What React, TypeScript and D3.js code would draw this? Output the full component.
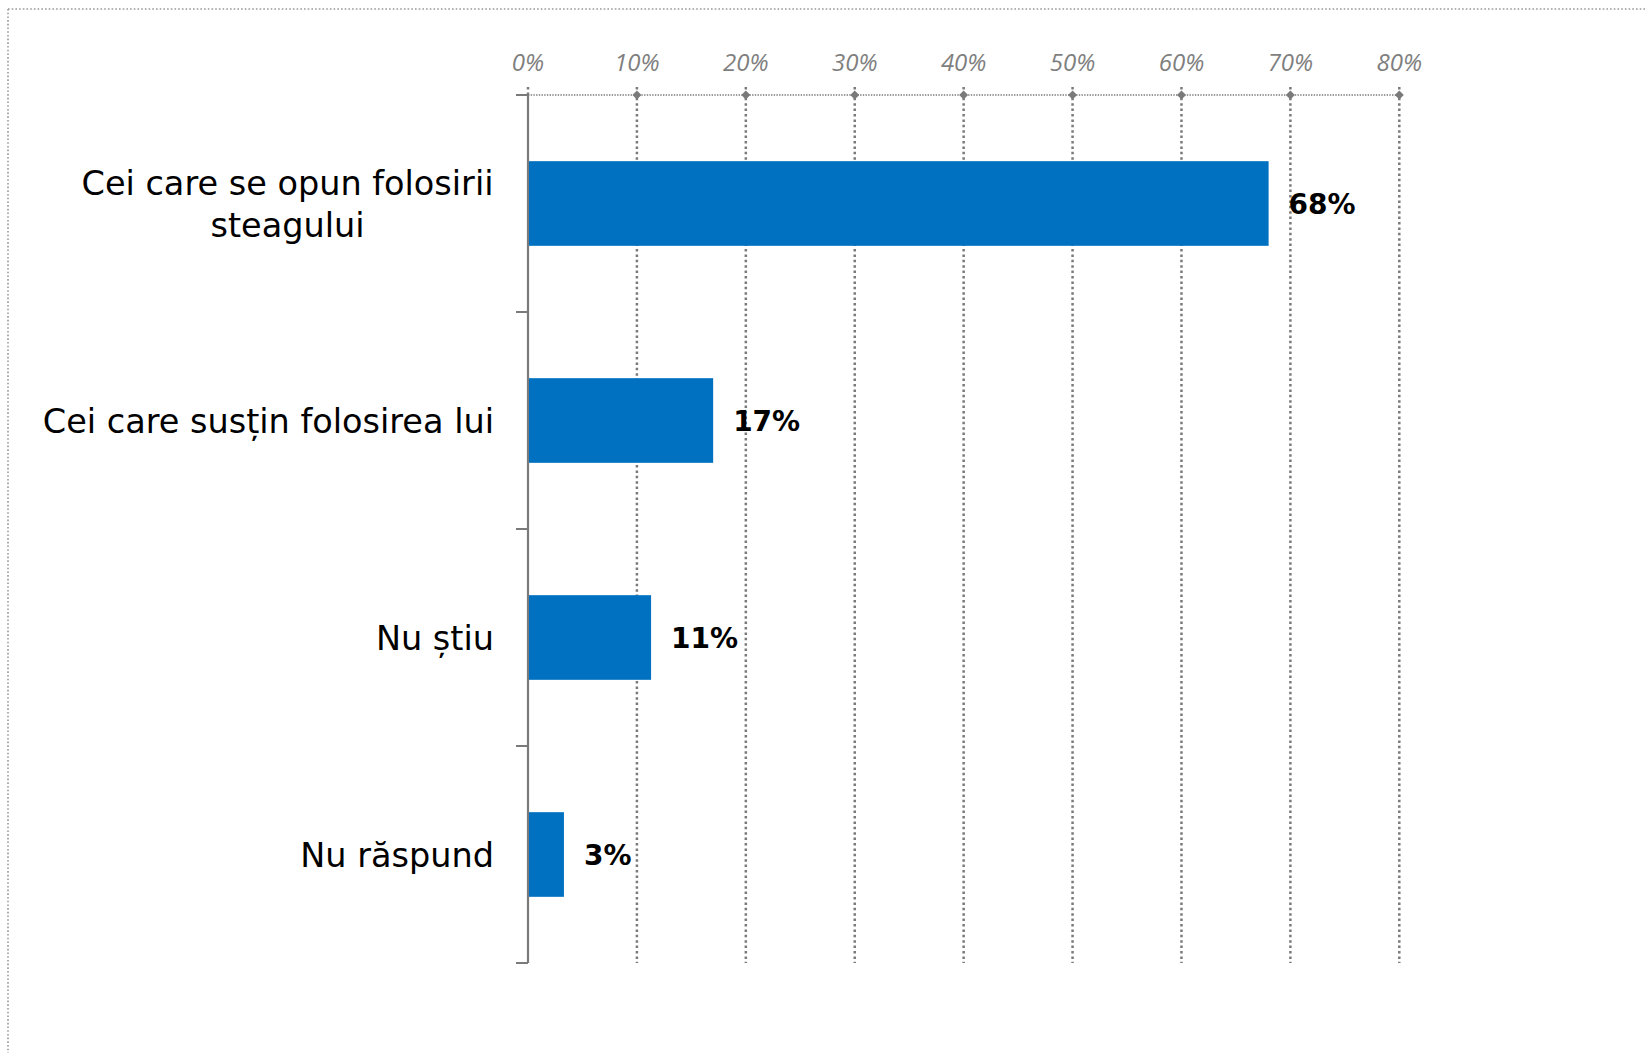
import React from "react";
import * as d3 from "d3";

const categories: string[][] = [
  ["Cei care se opun folosirii", "steagului"],
  ["Cei care susțin folosirea lui"],
  ["Nu știu"],
  ["Nu răspund"],
];
const values: number[] = [68, 17, 11.3, 3.3];
const ticks: number[] = [0, 10, 20, 30, 40, 50, 60, 70, 80];

const W = 1645;
const H = 1053;
const left = 528;
const right = 1399.3;
const top = 95;
const bottom = 963;

export default function App() {
  const x = d3.scaleLinear().domain([0, 80]).range([left, right]);
  const y = d3
    .scaleBand<number>()
    .domain(values.map((_, i) => i))
    .range([top, bottom])
    .paddingInner(0.61)
    .paddingOuter(0.305);
  const bandEdges = d3.range(values.length + 1).map((i) => top + (i * (bottom - top)) / values.length);
  const gray = "#7a7a7a";
  const fmt = d3.format(".0f");

  return (
    <svg
      width={W}
      height={H}
      style={{ position: "fixed", left: 0, top: 0, background: "#fff" }}
    >
      {/* outer dotted border */}
      <line x1={8} y1={9} x2={W} y2={9} stroke="#999" strokeWidth={1.6} strokeDasharray="1.6 2.1" />
      <line x1={8} y1={9} x2={8} y2={H} stroke="#999" strokeWidth={1.6} strokeDasharray="1.6 2.1" />

      {/* gridlines */}
      {ticks.map((t) => (
        <line
          key={"g" + t}
          x1={x(t)}
          x2={x(t)}
          y1={87}
          y2={t === 0 ? top : bottom}
          stroke={gray}
          strokeWidth={2.5}
          strokeDasharray="2.5 2.9"
        />
      ))}
      {/* top axis dotted line */}
      <line x1={x(0)} x2={x(80)} y1={top} y2={top} stroke={gray} strokeWidth={1.4} strokeDasharray="1.4 1.3" />
      <line x1={516} x2={x(0)} y1={top} y2={top} stroke={gray} strokeWidth={2} />
      {/* diamonds */}
      {ticks
        .filter((t) => t > 0)
        .map((t) => (
          <path
            key={"d" + t}
            d={`M${x(t)},${top - 4.5} L${x(t) + 4.5},${top} L${x(t)},${top + 4.5} L${x(t) - 4.5},${top} Z`}
            fill={gray}
          />
        ))}
      {/* tick labels */}
      {ticks.map((t) => (
        <text
          key={"t" + t}
          x={x(t)}
          y={70.5}
          textAnchor="middle"
          fontFamily="'Open Sans', sans-serif"
          fontStyle="italic"
          fontSize={24}
          fill="#7f7f7f"
        >
          {t}%
        </text>
      ))}

      {/* left axis */}
      <line x1={x(0)} x2={x(0)} y1={top} y2={bottom} stroke={gray} strokeWidth={2.2} />
      {bandEdges.slice(1).map((e, i) => (
        <line key={"e" + i} x1={516} x2={x(0)} y1={e} y2={e} stroke={gray} strokeWidth={2} />
      ))}

      {/* bars */}
      {values.map((v, i) => (
        <rect
          key={"b" + i}
          x={x(0) + 1}
          y={y(i)!}
          width={x(v) - x(0) - 1}
          height={y.bandwidth()}
          fill="#0070C0"
        />
      ))}
      {/* value labels */}
      {values.map((v, i) => (
        <text
          key={"v" + i}
          x={x(v) + 20}
          y={y(i)! + y.bandwidth() / 2}
          dy="0.36em"
          fontFamily="'DejaVu Sans', sans-serif"
          fontWeight="bold"
          fontSize={28}
          fill="#000"
        >
          {fmt(v)}%
        </text>
      ))}
      {/* category labels */}
      {categories.map((lines, i) => {
        const cy = y(i)! + y.bandwidth() / 2;
        const lh = 42;
        const start = cy - ((lines.length - 1) * lh) / 2;
        const multi = lines.length > 1;
        return (
          <text
            key={"c" + i}
            fontFamily="'DejaVu Sans', sans-serif"
            fontSize={33.5}
            fill="#000"
            textAnchor={multi ? "middle" : "end"}
          >
            {lines.map((l, j) => (
              <tspan key={j} x={multi ? 287.5 : 494} y={start + j * lh} dy="0.36em">
                {l}
              </tspan>
            ))}
          </text>
        );
      })}
    </svg>
  );
}
